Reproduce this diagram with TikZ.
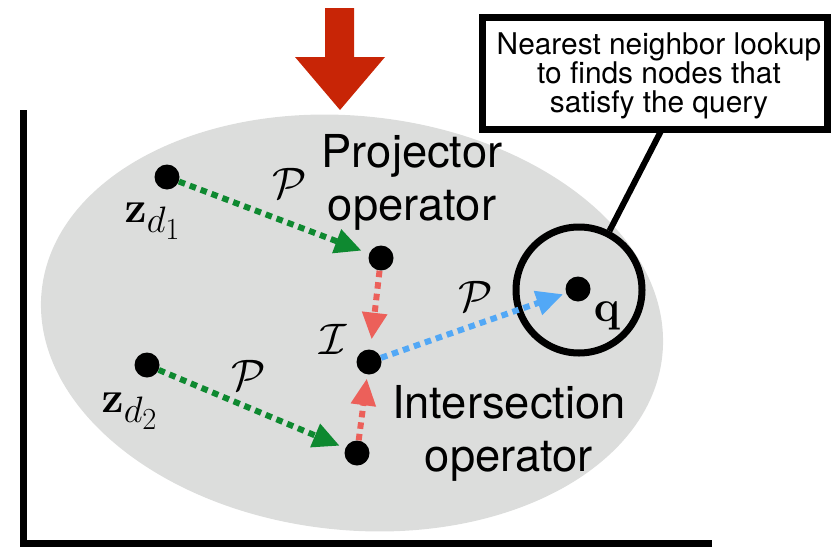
\documentclass[tikz,border=0pt]{standalone}
\usepackage{graphicx}
\usepackage[no-math]{fontspec}
\setmainfont{TeX Gyre Heros}
\usetikzlibrary{arrows.meta}
\definecolor{ellgray}{RGB}{220,221,220}
\definecolor{bigred}{RGB}{200,37,6}
\definecolor{pgreen}{RGB}{14,137,48}
\definecolor{psalmon}{RGB}{236,96,90}
\definecolor{pblue}{RGB}{82,168,246}
\newcommand{\bigmath}[1]{\scalebox{1.33}{$#1$}}
\tikzset{
  dot/.style={circle, fill=black, inner sep=0pt, minimum size=18.75pt},
  flow/.style={line width=4.5pt, dash pattern=on 4.9pt off 3.8pt,
    -{Triangle[length=20pt,width=18pt]}},
  lbl/.style={font=\fontsize{24.88}{30}\selectfont, inner sep=0pt, anchor=base},
  bigtext/.style={font=\fontsize{34}{39.75}\selectfont, align=center, inner sep=0pt},
  boxtext/.style={font=\fontsize{22.4}{21.75}\selectfont, align=center, inner sep=0pt},
  thick line/.style={line width=5.25pt},
}
\begin{document}
\begin{tikzpicture}[x=0.75pt,y=-0.75pt]
\useasboundingbox (0,0) rectangle (831,546);
% gray ellipse
\fill[ellgray, rotate around={-6:(352,323)}] (352,323) ellipse [x radius=312, y radius=207];
% axes
\coordinate (axtop) at (23,110);
\coordinate (axend) at (712,543);
\draw[thick line] (axtop) |- (axend);
% big red arrow
\fill[bigred] (325,8) -- (354,8) -- (354,57) -- (385,57) -- (340,110) -- (295,57) -- (325,57) -- cycle;
% texts
\node[bigtext] (projtxt) at (412,182) {Projector\\operator};
\node[bigtext] (intertxt) at (509,433) {Intersection\\operator};
% dots
\node[dot] (zd1) at (167,177) {};
\node[dot] (pdot) at (381,258) {};
\node[dot] (idot) at (369,362) {};
\node[dot] (zd2) at (147,365) {};
\node[dot] (bdot) at (357,453) {};
\node[dot] (qdot) at (578,289) {};
% query ring and callout
\node[circle, draw, thick line, minimum size=94.5pt, inner sep=0pt] (qring) at (579,290) {};
\node[draw, thick line, minimum width=258.75pt, minimum height=84pt, inner sep=0pt] (box) at (654.5,73) {};
\node[boxtext] (boxlabel) at (659,76) {Nearest neighbor lookup\\to finds nodes that\\satisfy the query};
\coordinate (boxfoot) at (662,129);
\draw[line width=4.5pt] (boxfoot) -- (qring);
% labels
\node[lbl] (lzd1) at (153,222) {\bigmath{\mathbf{z}_{d_1}}};
\node[lbl] (lzd2) at (130,412) {\bigmath{\mathbf{z}_{d_2}}};
\node[lbl] (lq) at (607,321) {\bigmath{\mathbf{q}}};
\node[lbl] (lp1) at (290,198) {\bigmath{\mathcal{P}}};
\node[lbl] (lp2) at (249,390) {\bigmath{\mathcal{P}}};
\node[lbl] (lp3) at (476,311) {\bigmath{\mathcal{P}}};
\node[lbl] (li) at (333,354) {\bigmath{\mathcal{I}}};
% flows
\draw[flow, pgreen, shorten >=6pt] (zd1) -- (pdot);
\draw[flow, pgreen, shorten >=4.5pt] (zd2) -- (bdot);
\draw[flow, psalmon, shorten >=7.5pt] (pdot) -- (idot);
\draw[flow, psalmon, shorten >=3pt] (bdot) -- (idot);
\draw[flow, pblue, shorten >=2.25pt] (idot) -- (qdot);
\end{tikzpicture}
\end{document}
